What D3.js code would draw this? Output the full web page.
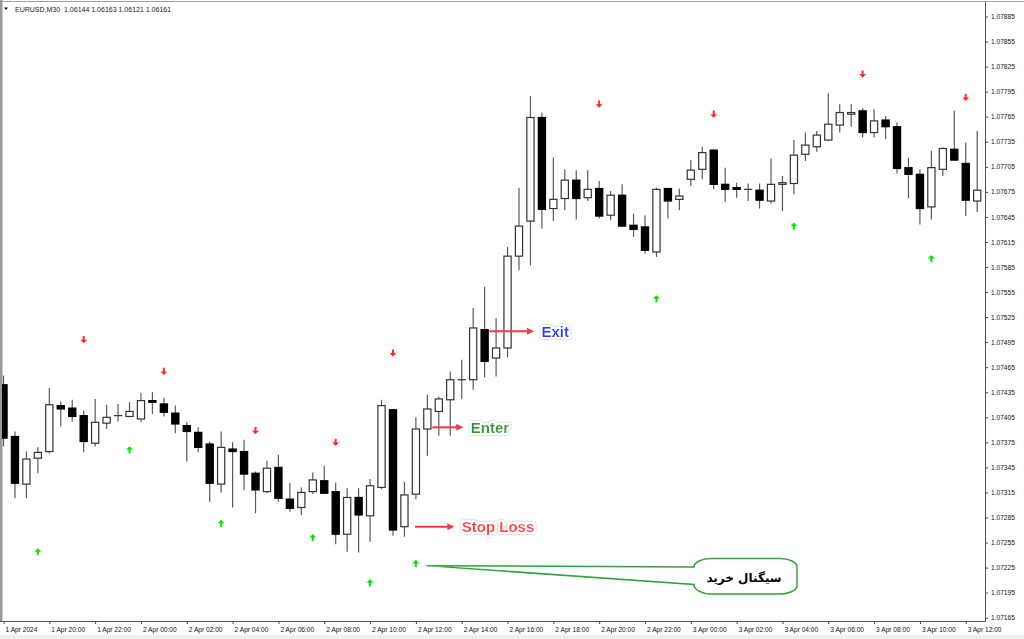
<!DOCTYPE html>
<html><head><meta charset="utf-8">
<script src="https://cdn.jsdelivr.net/npm/d3@7/dist/d3.min.js"></script>
<style>html,body{margin:0;padding:0;background:#fff;} svg{display:block}</style>
</head><body>
<svg id="chart" width="1024" height="639"></svg>
<script>
// ---------- DATA ----------
const symbolTitle = "EURUSD,M30  1.06144 1.06163 1.06121 1.06161";
const firstBarTime = new Date(2024, 3, 1, 18, 0);
const barCount = 86; // 30-minute bars, 1 Apr 18:00 .. 3 Apr 12:30
const open = [1.07444,1.07382,1.07325,1.07356,1.07364,1.07419,1.07416,1.07407,1.07374,1.07398,
1.07407,1.07406,1.07403,1.07425,1.07421,1.07410,1.07395,1.07387,1.07373,1.07325,
1.07367,1.07364,1.07338,1.07316,1.07345,1.07307,1.07297,1.07316,1.07329,1.07316,
1.07265,1.07309,1.07287,1.07321,1.07414,1.07274,1.07313,1.07391,1.07412,1.07426,
1.07450,1.07450,1.07510,1.07476,1.07488,1.07598,1.07640,1.07764,1.07655,1.07667,
1.07689,1.07668,1.07679,1.07647,1.07671,1.07635,1.07633,1.07603,1.07679,1.07666,
1.07690,1.07702,1.07725,1.07684,1.07680,1.07678,1.07677,1.07664,1.07684,1.07685,
1.07720,1.07729,1.07737,1.07755,1.07768,1.07772,1.07746,1.07761,1.07753,1.07704,
1.07696,1.07657,1.07702,1.07726,1.07709,1.07664];
const high = [1.07455,1.07388,1.07364,1.07369,1.07440,1.07424,1.07426,1.07413,1.07427,1.07420,
1.07421,1.07423,1.07434,1.07435,1.07428,1.07419,1.07399,1.07393,1.07376,1.07388,
1.07375,1.07378,1.07340,1.07353,1.07360,1.07326,1.07321,1.07339,1.07347,1.07327,
1.07320,1.07320,1.07331,1.07426,1.07415,1.07328,1.07405,1.07432,1.07430,1.07460,
1.07474,1.07536,1.07561,1.07524,1.07609,1.07680,1.07790,1.07770,1.07716,1.07702,
1.07701,1.07701,1.07688,1.07676,1.07684,1.07649,1.07647,1.07680,1.07679,1.07679,
1.07713,1.07729,1.07726,1.07704,1.07686,1.07685,1.07685,1.07715,1.07694,1.07737,
1.07746,1.07748,1.07793,1.07780,1.07780,1.07775,1.07774,1.07766,1.07758,1.07716,
1.07702,1.07724,1.07728,1.07772,1.07734,1.07748];
const low = [1.07370,1.07308,1.07308,1.07338,1.07362,1.07394,1.07400,1.07363,1.07370,1.07391,
1.07400,1.07405,1.07399,1.07409,1.07406,1.07386,1.07352,1.07363,1.07304,1.07315,
1.07297,1.07318,1.07290,1.07314,1.07304,1.07292,1.07288,1.07313,1.07313,1.07253,
1.07244,1.07243,1.07256,1.07319,1.07263,1.07262,1.07307,1.07359,1.07383,1.07383,
1.07427,1.07438,1.07453,1.07454,1.07477,1.07581,1.07587,1.07631,1.07640,1.07653,
1.07642,1.07664,1.07643,1.07641,1.07633,1.07621,1.07601,1.07597,1.07643,1.07653,
1.07682,1.07690,1.07678,1.07663,1.07668,1.07664,1.07655,1.07661,1.07652,1.07672,
1.07712,1.07723,1.07736,1.07746,1.07753,1.07740,1.07740,1.07738,1.07697,1.07667,
1.07636,1.07642,1.07694,1.07713,1.07646,1.07651];
const close = [1.07380,1.07326,1.07355,1.07363,1.07420,1.07415,1.07406,1.07376,1.07399,1.07405,
1.07407,1.07412,1.07425,1.07423,1.07411,1.07397,1.07388,1.07369,1.07326,1.07369,
1.07364,1.07337,1.07318,1.07344,1.07308,1.07296,1.07315,1.07330,1.07314,1.07265,
1.07309,1.07288,1.07323,1.07419,1.07270,1.07312,1.07391,1.07415,1.07427,1.07450,
1.07450,1.07512,1.07472,1.07488,1.07598,1.07634,1.07764,1.07654,1.07666,1.07689,
1.07667,1.07678,1.07646,1.07671,1.07634,1.07630,1.07605,1.07678,1.07664,1.07670,
1.07701,1.07722,1.07684,1.07678,1.07678,1.07678,1.07665,1.07684,1.07686,1.07719,
1.07731,1.07743,1.07756,1.07770,1.07770,1.07746,1.07760,1.07753,1.07703,1.07696,
1.07655,1.07704,1.07727,1.07713,1.07665,1.07677];

const sellSignalBar = [7,14,22,29,34,52,62,75,84];
const sellSignalPrice = [1.07498,1.07460,1.07389,1.07375,1.07482,1.07780,1.07768,1.07816,1.07788];
const buySignalBar = [3,11,19,27,32,36,57,69,81];
const buySignalPrice = [1.07244,1.07366,1.07278,1.07261,1.07207,1.07230,1.07547,1.07634,1.07595];

const priceTicks = [1.07885,1.07855,1.07825,1.07795,1.07765,1.07735,1.07705,1.07675,1.07645,1.07615,
1.07585,1.07555,1.07525,1.07495,1.07465,1.07435,1.07405,1.07375,1.07345,1.07315,1.07285,1.07255,1.07225,1.07195,1.07165];
const timeTickBar = [0,4,8,12,16,20,24,28,32,36,40,44,48,52,56,60,64,68,72,76,80,84];
const timeTickLabels = ["1 Apr 2024","1 Apr 20:00","1 Apr 22:00","2 Apr 00:00","2 Apr 02:00","2 Apr 04:00",
"2 Apr 06:00","2 Apr 08:00","2 Apr 10:00","2 Apr 12:00","2 Apr 14:00","2 Apr 16:00","2 Apr 18:00",
"2 Apr 20:00","2 Apr 22:00","3 Apr 00:00","3 Apr 02:00","3 Apr 04:00","3 Apr 06:00","3 Apr 08:00",
"3 Apr 10:00","3 Apr 12:00"];

const noteLabels = ["Exit","Enter","Stop Loss"];
const noteBar = [42,37,35];
const notePrice = [1.07508,1.07393,1.07274];
const noteColors = ["#1e3cff","#2a9a3c","#ff4040"];
const calloutText = "سیگنال خرید";
const calloutBar = 36; // points at buy signal of this bar

// ---------- LAYOUT ----------
const W = 1024, H = 639;
const plotRight = 985, plotBottom = 621, plotTop = 2, plotLeft = 2;
const barIndex = d3.range(barCount);
const barTimes = barIndex.map(i => new Date(firstBarTime.getTime() + i*30*60000));

const x = d3.scaleLinear().domain([0, barCount-1]).range([3.5, 977.2]);
const y = d3.scaleLinear().domain([1.07165, 1.07885]).range([617.7, 16.5]);
const bodyW = 7.2;

const svg = d3.select("#chart");
const defs = svg.append("defs");
const f = defs.append("filter").attr("id","glow").attr("x","-30%").attr("y","-80%").attr("width","160%").attr("height","260%");
f.append("feMorphology").attr("in","SourceAlpha").attr("operator","dilate").attr("radius",2).attr("result","d");
f.append("feGaussianBlur").attr("in","d").attr("stdDeviation",1.3).attr("result","b");
f.append("feFlood").attr("flood-color","#000").attr("flood-opacity",0.3).attr("result","fc");
f.append("feComposite").attr("in","fc").attr("in2","b").attr("operator","in").attr("result","sh");
f.append("feFlood").attr("flood-color","#fff").attr("result","wc");
f.append("feComposite").attr("in","wc").attr("in2","d").attr("operator","in").attr("result","halo");
const mg = f.append("feMerge");
mg.append("feMergeNode").attr("in","sh");
mg.append("feMergeNode").attr("in","halo");
mg.append("feMergeNode").attr("in","SourceGraphic");
defs.append("clipPath").attr("id","plotclip").append("rect")
  .attr("x",plotLeft).attr("y",plotTop).attr("width",plotRight-plotLeft).attr("height",plotBottom-plotTop);

svg.append("rect").attr("width",W).attr("height",H).attr("fill","#fff");

// frame
svg.append("line").attr("x1",0).attr("x2",W).attr("y1",1.5).attr("y2",1.5).attr("stroke","#a0a0a0").attr("stroke-width",1);
svg.append("rect").attr("x",0).attr("y",0).attr("width",2.5).attr("height",plotBottom).attr("fill","#9a9a9a");

const plot = svg.append("g").attr("clip-path","url(#plotclip)");

const bars = barIndex.map(i => ({i, t: barTimes[i], o: open[i], h: high[i], l: low[i], c: close[i]}));

// wicks
plot.append("g").selectAll("line").data(bars).join("line")
  .attr("x1", d => x(d.i)).attr("x2", d => x(d.i))
  .attr("y1", d => y(d.h)).attr("y2", d => y(d.l))
  .attr("stroke","#5a5a5a").attr("stroke-width",1.2);

// bodies
plot.append("g").selectAll("rect").data(bars).join("rect")
  .attr("x", d => x(d.i) - bodyW/2)
  .attr("width", bodyW)
  .attr("y", d => y(Math.max(d.o, d.c)))
  .attr("height", d => Math.max(0.01, Math.abs(y(d.o) - y(d.c))))
  .attr("fill", d => d.c < d.o ? "#000" : "#fff")
  .attr("stroke", d => d.c < d.o ? "#000" : "#333")
  .attr("stroke-width",1.2);

// signal arrows
function arrowPath(cx, cy, up) {
  const s = up ? 1 : -1;
  return `M${cx},${cy - 3.6*s} L${cx+3.4},${cy} L${cx+1},${cy} L${cx+1},${cy+3.6*s} L${cx-1},${cy+3.6*s} L${cx-1},${cy} L${cx-3.4},${cy} Z`;
}
plot.append("g").selectAll("path").data(sellSignalBar.map((b,k)=>({b, p: sellSignalPrice[k]}))).join("path")
  .attr("d", d => arrowPath(x(d.b), y(d.p), false)).attr("fill","#ff2828");
plot.append("g").selectAll("path").data(buySignalBar.map((b,k)=>({b, p: buySignalPrice[k]}))).join("path")
  .attr("d", d => arrowPath(x(d.b), y(d.p), true)).attr("fill","#00e600");

// axes
const yAxis = d3.axisRight(y).tickValues(priceTicks).tickFormat(d3.format(".5f")).tickSize(3).tickPadding(3);
const gy = svg.append("g").attr("transform",`translate(${plotRight},0)`).call(yAxis);
gy.select(".domain").remove();
gy.selectAll(".tick line").attr("stroke","#444");
gy.selectAll(".tick text").attr("font-family","Liberation Sans, Arial, sans-serif").attr("font-size","6.6px").attr("fill","#111");

const xAxis = d3.axisBottom(x).tickValues(timeTickBar).tickFormat((d,k) => timeTickLabels[k]).tickSize(3);
const gx = svg.append("g").attr("transform",`translate(0,${plotBottom})`).call(xAxis);
gx.select(".domain").remove();
gx.selectAll(".tick line").attr("stroke","#444");
gx.selectAll(".tick text").attr("font-family","Liberation Sans, Arial, sans-serif").attr("font-size","6.6px").attr("fill","#111")
  .attr("text-anchor","start").attr("x",1.5).attr("y",6.5);

svg.append("line").attr("x1",0).attr("x2",plotRight).attr("y1",plotBottom+0.5).attr("y2",plotBottom+0.5).attr("stroke","#555");
svg.append("line").attr("x1",plotRight+0.5).attr("x2",plotRight+0.5).attr("y1",plotTop).attr("y2",plotBottom+1).attr("stroke","#555");
svg.append("rect").attr("x",0).attr("y",635).attr("width",W).attr("height",4).attr("fill","#f0f0f0");

// header
svg.append("path").attr("d","M4,7.5 L8,7.5 L6,10 Z").attr("fill","#111");
svg.append("text").attr("x",15).attr("y",11.5).attr("xml:space","preserve").style("white-space","pre")
  .attr("font-family","Liberation Sans, Arial, sans-serif").attr("font-size","7px").attr("fill","#222").text(symbolTitle);

// annotations (arrow + label)
const noteStartDx = [4.7, 5, 10.6];
const noteEndX = [534, 463.3, 454.3];
const ann = svg.append("g");
noteLabels.forEach((lab,k) => {
  const yy = y(notePrice[k]);
  const x0 = x(noteBar[k]) + noteStartDx[k], x1 = noteEndX[k];
  ann.append("line").attr("x1",x0).attr("x2",x1-6).attr("y1",yy).attr("y2",yy).attr("stroke","#f03c3c").attr("stroke-width",2);
  ann.append("path").attr("d",`M${x1},${yy} L${x1-7},${yy-3.5} L${x1-7},${yy+3.5} Z`).attr("fill","#f03c3c");
  ann.append("text").attr("x",x1+7.5).attr("y",yy+5.3).attr("font-family","Liberation Sans, Arial, sans-serif")
    .attr("font-weight","bold").attr("font-size","15px").attr("fill",noteColors[k]).attr("filter","url(#glow)").text(lab);
});

// callout bubble
const tipX = x(calloutBar) + 10.6, tipY = y(buySignalPrice[buySignalBar.indexOf(calloutBar)]) + 2.2;
const bx0 = 694, bx1 = 797, by0 = 558.5, by1 = 594;
const bubble = `M${tipX},${tipY} L${bx0},567 A17,8.5 0 0 1 ${bx0+17},${by0} L${bx1-17},${by0} A17,8.5 0 0 1 ${bx1},${by0+8.5} L${bx1},${by1-8.5} A17,8.5 0 0 1 ${bx1-17},${by1} L${bx0+17},${by1} A17,9.5 0 0 1 ${bx0},584.5 Z`;
svg.append("path").attr("d",bubble).attr("fill","#fff").attr("stroke","#32a23a").attr("stroke-width",1.5);
svg.append("text").attr("x",744).attr("y",581.5).attr("text-anchor","middle").attr("direction","rtl")
  .attr("font-family","DejaVu Sans, sans-serif").attr("font-weight","bold").attr("font-size","12px").attr("fill","#000").text(calloutText);
</script>
</body></html>
